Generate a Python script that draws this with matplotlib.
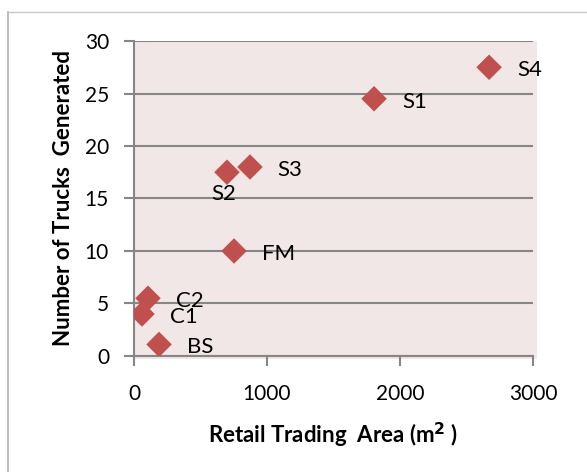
import matplotlib
matplotlib.use("Agg")
import matplotlib.pyplot as plt
from matplotlib.patches import Rectangle

# Retail trading area (m2) vs trucks generated
shops = ["S4", "S1", "S3", "S2", "FM", "C2", "C1", "BS"]
area = [2670, 1805, 872, 699, 752, 105, 60, 188]
trucks = [27.5, 24.5, 18.0, 17.5, 10.0, 5.5, 4.0, 1.1]

x_ticks = [0, 1000, 2000, 3000]
y_ticks = [0, 5, 10, 15, 20, 25, 30]

plt.rcParams["font.family"] = ["Lato", "DejaVu Sans"]

fig = plt.figure(figsize=(5.87, 4.72), dpi=100)
ax = fig.add_axes([0.2283, 0.2458, 0.6797, 0.6673])

# outer chart border (light grey, only top/left visible)
fig.add_artist(plt.Line2D([8 / 587, 8 / 587], [0, 1 - 12 / 472], transform=fig.transFigure,
                          color="#b0b0b0", linewidth=1.2))
fig.add_artist(plt.Line2D([8 / 587, 1], [1 - 12 / 472, 1 - 12 / 472], transform=fig.transFigure,
                          color="#c8c8c8", linewidth=1.0))

ax.set_facecolor("none")
bg = Rectangle((0, -0.01), 1.01, 1.01, transform=ax.transAxes, facecolor="#f2e7e7",
               edgecolor="none", clip_on=False, zorder=0)
ax.add_patch(bg)

ax.set_xlim(0, 3000)
ax.set_ylim(0, 30)
ax.set_xticks(x_ticks)
ax.set_yticks(y_ticks)
ax.grid(True, axis="y", color="#868686", linewidth=1.5, zorder=1)
ax.set_axisbelow(True)

for side in ["top", "right"]:
    ax.spines[side].set_visible(False)
for side in ["left", "bottom"]:
    ax.spines[side].set_color("#868686")
    ax.spines[side].set_linewidth(1.5)

ax.tick_params(axis="both", colors="#868686", width=1.5, length=7, labelsize=15,
               labelcolor="black", direction="out")
ax.tick_params(axis="x", pad=13)
ax.tick_params(axis="y", pad=11)

ax.scatter(area, trucks, marker="D", s=13 ** 2, color="#c0504d", edgecolors="none", zorder=3)

for name, xv, yv in zip(shops, area, trucks):
    if name == "S2":
        ax.annotate(name, (xv, yv), xytext=(-2, -16), textcoords="offset points",
                    ha="center", va="center", fontsize=16, zorder=4)
    else:
        ax.annotate(name, (xv, yv), xytext=(20, -2), textcoords="offset points",
                    ha="left", va="center", fontsize=16, zorder=4)

ax.set_xlabel("Retail Trading  Area (m$^{\\mathbf{2}}$ )", fontsize=16, fontweight="bold", labelpad=12)
ax.set_ylabel("Number of Trucks  Generated", fontsize=16, fontweight="bold", labelpad=8)

fig.savefig("out.png", dpi=100)
